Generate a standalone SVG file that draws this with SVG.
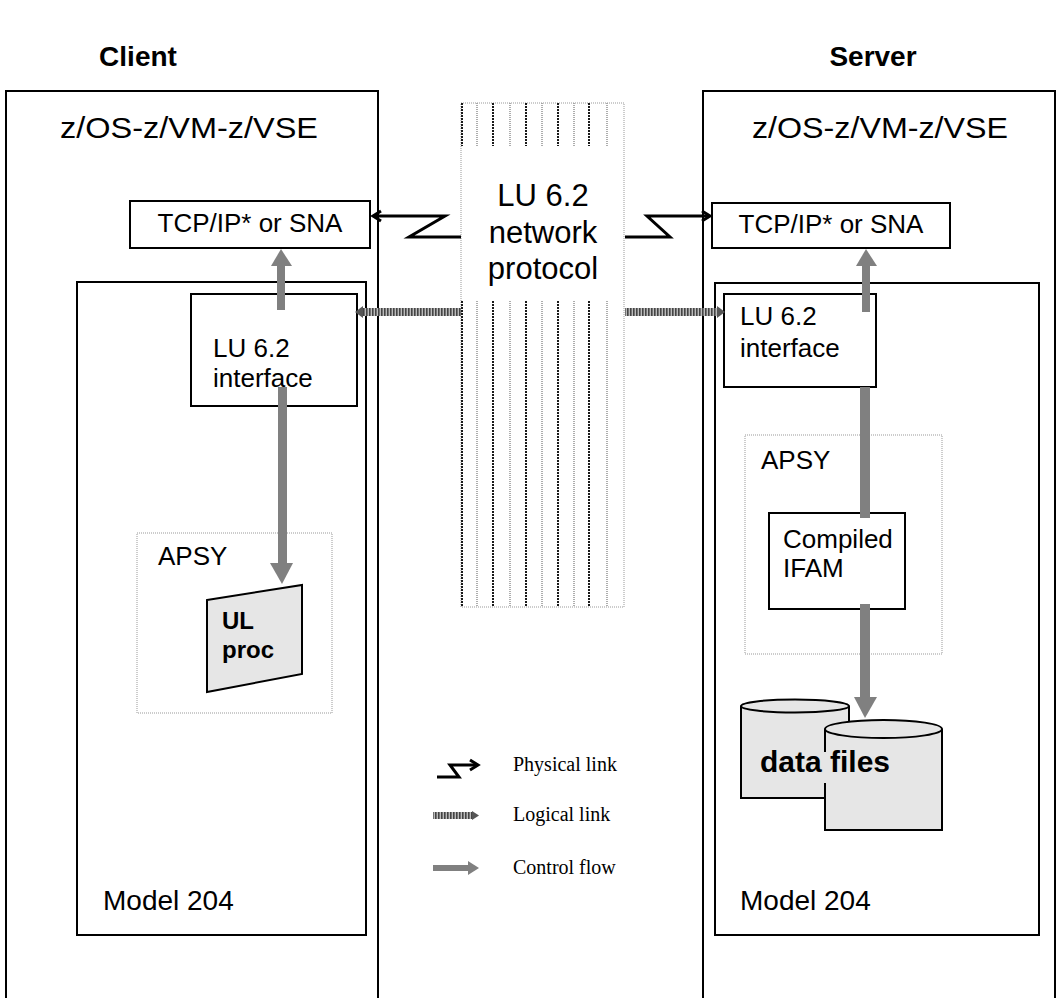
<svg xmlns="http://www.w3.org/2000/svg" width="1061" height="998" viewBox="0 0 1061 998">
<style>
text{font-family:"Liberation Sans",Arial,sans-serif;fill:#000}
.t{font-size:26px}
.b{font-weight:bold}
.lg{font-family:"Liberation Serif","Times New Roman",serif;font-size:20px}
.box{fill:#fff;stroke:#000;stroke-width:2}
.frame{fill:none;stroke:#000;stroke-width:2}
.dot{fill:none;stroke:#999;stroke-width:1;stroke-dasharray:1 1}
.phys{fill:none;stroke:#000;stroke-width:3;stroke-linejoin:miter}
.ctl{fill:#808080}
.cyl{fill:#e6e6e6;stroke:#000;stroke-width:2}
.sd{stroke:#1a1a1a;stroke-width:2;stroke-dasharray:2 1}
.sl{stroke:#999;stroke-width:1.6;stroke-dasharray:1 1}
</style>
<defs>
<pattern id="hatch" width="3" height="10" patternUnits="userSpaceOnUse">
<rect width="3" height="10" fill="#bbb"/>
<rect width="1.6" height="10" fill="#444"/>
</pattern>
</defs>
<rect width="1061" height="998" fill="#fff"/>

<g id="titles">
<text class="b" x="138" y="66" font-size="28" text-anchor="middle">Client</text>
<text class="b" x="873" y="66" font-size="28" text-anchor="middle">Server</text>
</g>

<g id="client-os">
<path class="frame" d="M6,1000 V91 H378 V1000"/>
<text x="60" y="138" font-size="30" textLength="258" lengthAdjust="spacingAndGlyphs">z/OS-z/VM-z/VSE</text>
</g>
<g id="server-os">
<path class="frame" d="M703,1000 V91 H1055 V1000"/>
<text x="752" y="138" font-size="30" textLength="256" lengthAdjust="spacingAndGlyphs">z/OS-z/VM-z/VSE</text>
</g>

<g id="client-model204">
<rect class="frame" x="77" y="282" width="289" height="653"/>
<text x="103" y="910" font-size="28">Model 204</text>
</g>
<g id="server-model204">
<rect class="frame" x="715" y="283" width="324" height="652"/>
<text x="740" y="910" font-size="28">Model 204</text>
</g>

<g id="network">
<rect x="461" y="103" width="163" height="504" fill="#fff" class="dot"/>
<g>
<line class="sd" x1="462" y1="103" x2="462" y2="146" stroke-width="3"/>
<line class="sl" x1="477" y1="103" x2="477" y2="146"/>
<line class="sd" x1="493" y1="103" x2="493" y2="146"/>
<line class="sl" x1="510" y1="103" x2="510" y2="146"/>
<line class="sd" x1="526" y1="103" x2="526" y2="146"/>
<line class="sl" x1="542" y1="103" x2="542" y2="146"/>
<line class="sd" x1="558" y1="103" x2="558" y2="146"/>
<line class="sl" x1="574" y1="103" x2="574" y2="146"/>
<line class="sd" x1="589" y1="103" x2="589" y2="146"/>
<line class="sl" x1="607" y1="103" x2="607" y2="146"/>
<line class="sd" x1="462" y1="301" x2="462" y2="606" stroke-width="3"/>
<line class="sl" x1="477" y1="301" x2="477" y2="606"/>
<line class="sd" x1="493" y1="301" x2="493" y2="606"/>
<line class="sl" x1="510" y1="301" x2="510" y2="606"/>
<line class="sd" x1="526" y1="301" x2="526" y2="606"/>
<line class="sl" x1="542" y1="301" x2="542" y2="606"/>
<line class="sd" x1="558" y1="301" x2="558" y2="606"/>
<line class="sl" x1="574" y1="301" x2="574" y2="606"/>
<line class="sd" x1="589" y1="301" x2="589" y2="606"/>
<line class="sl" x1="607" y1="301" x2="607" y2="606"/>
</g>
<text x="543" y="206" font-size="31" text-anchor="middle">LU 6.2</text>
<text x="543" y="243" font-size="31" text-anchor="middle">network</text>
<text x="543" y="279" font-size="31" text-anchor="middle">protocol</text>
</g>

<g id="client-tcp">
<rect class="box" x="130" y="201" width="240" height="47"/>
<text class="t" x="250" y="232" text-anchor="middle">TCP/IP* or SNA</text>
</g>
<g id="server-tcp">
<rect class="box" x="712" y="203" width="238" height="45"/>
<text class="t" x="831" y="233" text-anchor="middle">TCP/IP* or SNA</text>
</g>

<g id="client-lu">
<rect class="box" x="191" y="294" width="166" height="112"/>
<text class="t" x="213" y="357">LU 6.2</text>
<text class="t" x="213" y="387">interface</text>
</g>
<g id="server-lu">
<rect class="box" x="724" y="294" width="152" height="93"/>
<text class="t" x="740" y="325">LU 6.2</text>
<text class="t" x="740" y="357">interface</text>
</g>

<g id="client-apsy">
<rect class="dot" x="137" y="533" width="195" height="180"/>
<text class="t" x="158" y="565">APSY</text>
</g>
<g id="server-apsy">
<rect class="dot" x="745" y="435" width="197" height="219"/>
<text class="t" x="761" y="469">APSY</text>
</g>

<g id="ul-proc">
<polygon points="207,600 302,585 302,674 207,692" fill="#e6e6e6" stroke="#000" stroke-width="2"/>
<text class="b" x="222" y="629" font-size="24">UL</text>
<text class="b" x="222" y="658" font-size="24">proc</text>
</g>

<g id="compiled-ifam">
<rect class="box" x="769" y="513" width="136" height="96"/>
<text class="t" x="783" y="548">Compiled</text>
<text class="t" x="783" y="577">IFAM</text>
</g>

<g id="connectors">
<path class="phys" d="M461,237 H409 L445,216 H374"/>
<path class="phys" d="M381,211 L373,216 L381,221"/>
<path class="phys" d="M625,237 H670 L647,216 H709"/>
<path class="phys" d="M702,211 L710,216 L702,221"/>
<rect x="362" y="308" width="99" height="8" fill="url(#hatch)"/>
<polygon points="355,312 363,306 363,318" fill="#555"/>
<rect x="625" y="308" width="93" height="8" fill="url(#hatch)"/>
<polygon points="725,312 717,306 717,318" fill="#555"/>
<rect class="ctl" x="277" y="265" width="8" height="45"/>
<polygon class="ctl" points="271,266 281,249 292,266"/>
<rect class="ctl" x="862" y="265" width="8" height="47"/>
<polygon class="ctl" points="856,266 866,249 877,266"/>
<rect class="ctl" x="278" y="387" width="9" height="177"/>
<polygon class="ctl" points="270,563 293,563 282,584"/>
<rect class="ctl" x="860" y="387" width="10" height="131"/>
<rect class="ctl" x="860" y="604" width="10" height="94"/>
<polygon class="ctl" points="854,697 877,697 865,718"/>
</g>

<g id="data-files">
<path class="cyl" d="M741,706 V798 H849 V706"/>
<ellipse class="cyl" cx="795" cy="706" rx="54" ry="6.5"/>
<path class="cyl" d="M825,729 V830 H942 V729"/>
<ellipse class="cyl" cx="883.5" cy="729" rx="58.5" ry="9"/>
<rect x="822" y="752" width="8" height="31" fill="#e6e6e6"/>
<text class="b" x="760" y="772" font-size="30">data files</text>
</g>

<g id="legend">
<path class="phys" d="M437,777 H459 L450,765 H476"/>
<path class="phys" d="M470,760 L478,765 L470,770"/>
<text class="lg" x="513" y="771">Physical link</text>
<rect x="433" y="812" width="40" height="7" fill="url(#hatch)"/>
<polygon points="479,815.5 472,811 472,820" fill="#555"/>
<text class="lg" x="513" y="821">Logical link</text>
<rect class="ctl" x="433" y="865" width="36" height="6"/>
<polygon class="ctl" points="468,861 479,868 468,875"/>
<text class="lg" x="513" y="874">Control flow</text>
</g>
</svg>
